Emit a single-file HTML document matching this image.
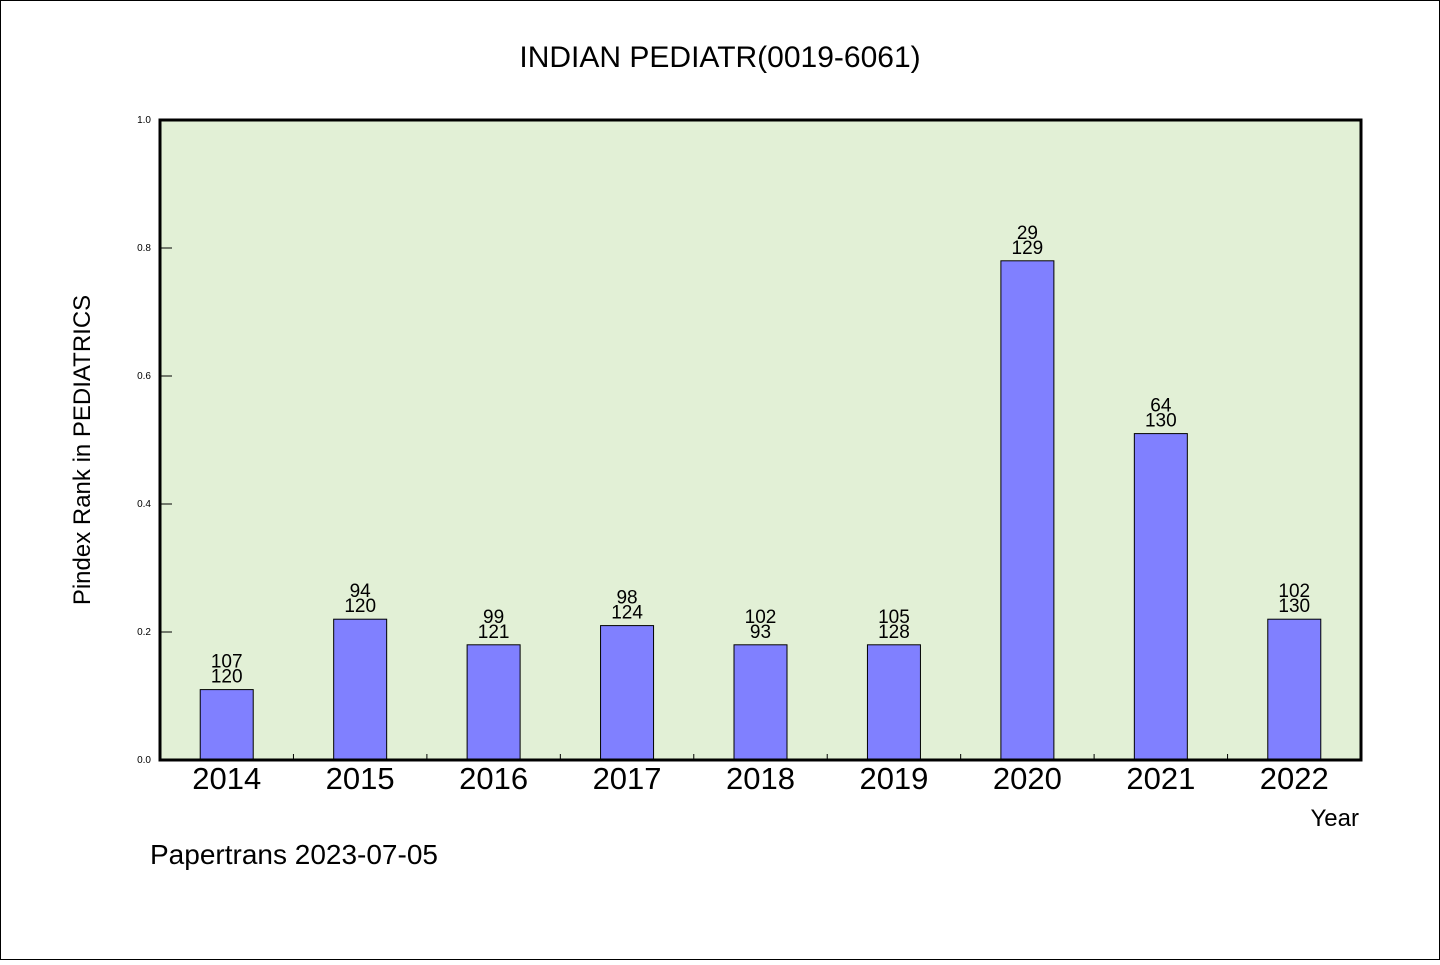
<!DOCTYPE html>
<html><head><meta charset="utf-8"><style>
html,body{margin:0;padding:0;background:#fff}
svg text{font-family:"WenQuanYi Zen Hei","Liberation Sans",sans-serif}
</style></head><body>
<svg width="1440" height="960" viewBox="0 0 1440 960">
<rect x="0.5" y="0.5" width="1439" height="959" fill="#fff" stroke="#000"/>
<text x="720" y="67" text-anchor="middle" font-size="30">INDIAN PEDIATR(0019-6061)</text>
<rect x="160" y="120" width="1201" height="640" fill="#e2f0d6"/>
<g id="bars"></g>
<g id="axes"></g>
<rect x="160" y="120" width="1201" height="640" fill="none" stroke="#000" stroke-width="3"/>
<text x="90" y="450" text-anchor="middle" font-size="24" transform="rotate(-90 90 450)">Pindex Rank in PEDIATRICS</text>
<text x="1359" y="826" text-anchor="end" font-size="24">Year</text>
<text x="150" y="864" font-size="28">Papertrans 2023-07-05</text>
</svg>
<script>
const years=['2014','2015','2016','2017','2018','2019','2020','2021','2022'];
const values=[0.11,0.22,0.18,0.21,0.18,0.18,0.78,0.51,0.22];
const rankTop=['107','94','99','98','102','105','29','64','102'];
const rankBottom=['120','120','121','124','93','128','129','130','130'];
const yTicks=[0,0.2,0.4,0.6,0.8,1.0];
const NS='http://www.w3.org/2000/svg';
const x0=160,x1=1361,y0=760,y1=120;
const bw=(x1-x0)/years.length;
const ys=v=>y0-(v)*(y0-y1);
const xc=i=>x0+bw*(i+0.5);
function mk(t,a,p){const e=document.createElementNS(NS,t);for(const k in a)e.setAttribute(k,a[k]);p.appendChild(e);return e;}
const bars=document.getElementById('bars'),axes=document.getElementById('axes');
years.forEach((y,i)=>{
 const top=ys(values[i]);
 const r=mk('rect',{x:xc(i)-26.5,y:top,width:53,height:y0-top,fill:'#8080ff',stroke:'#000','stroke-width':1},bars);
 
 
 const t1=mk('text',{x:xc(i),y:top-22,'text-anchor':'middle','font-size':19},bars);t1.textContent=rankTop[i];
 
 
 const t2=mk('text',{x:xc(i),y:top-7,'text-anchor':'middle','font-size':19},bars);t2.textContent=rankBottom[i];
 
 
 const xl=mk('text',{x:xc(i),y:789,'text-anchor':'middle','font-size':31},axes);xl.textContent=y;
 
 
 if(i>0){const tk=mk('line',{x1:x0+bw*i,x2:x0+bw*i,y1:y0,y2:y0-6,stroke:'#000'},axes);
 
 }
});
yTicks.forEach(v=>{
 const y=ys(v);
 const l=mk('line',{x1:x0,x2:x0+12,y1:y,y2:y,stroke:'#000'},axes);
 
 
 const t=mk('text',{x:151,y:y+3,'text-anchor':'end','font-size':10},axes);t.textContent=v.toFixed(1);
 
 
});
</script>
</body></html>
